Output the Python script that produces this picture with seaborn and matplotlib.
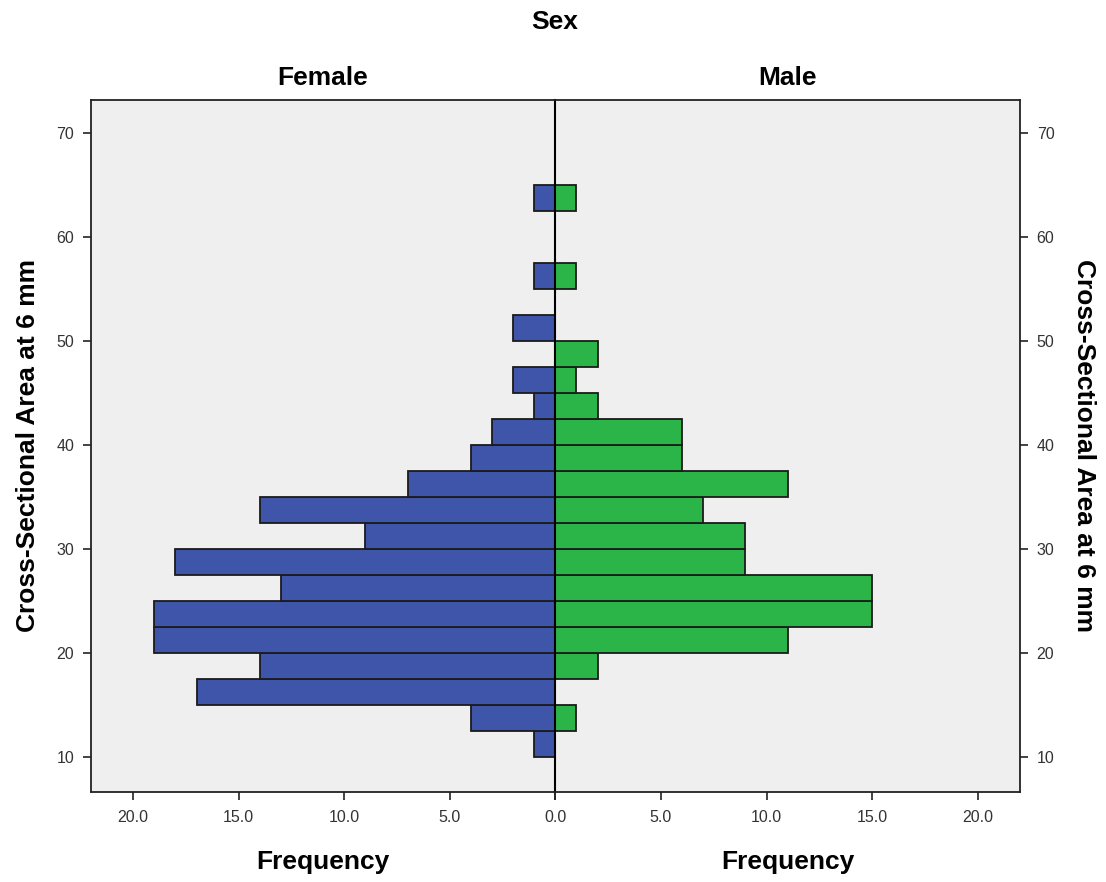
import numpy as np
import pandas as pd
import matplotlib
matplotlib.use("Agg")
import matplotlib.pyplot as plt
import seaborn as sns

# bin edges (width 2.5) and counts per bin, from 10 to 65
bin_edges = [10, 12.5, 15, 17.5, 20, 22.5, 25, 27.5, 30, 32.5, 35, 37.5,
             40, 42.5, 45, 47.5, 50, 52.5, 55, 57.5, 60, 62.5, 65]
female_counts = [1, 4, 17, 14, 19, 19, 13, 18, 9, 14, 7, 4,
                 3, 1, 2, 0, 2, 0, 1, 0, 0, 1]
male_counts = [0, 1, 0, 2, 11, 15, 15, 9, 9, 7, 11, 6,
               6, 2, 1, 2, 0, 0, 1, 0, 0, 1]
groups = ["Female", "Male"]
x_ticks = [0, 5, 10, 15, 20]
x_ticklabels = ["0.0", "5.0", "10.0", "15.0", "20.0"]
y_ticks = [10, 20, 30, 40, 50, 60, 70]

centers = [(a + b) / 2 for a, b in zip(bin_edges[:-1], bin_edges[1:])]
df = pd.DataFrame({
    "area": centers * 2,
    "count": female_counts + male_counts,
    "sex": ["Female"] * len(centers) + ["Male"] * len(centers),
})

sns.set_style("ticks")
plt.rcParams["font.family"] = ["Liberation Sans", "DejaVu Sans"]
plt.rcParams["text.color"] = "black"
plt.rcParams["axes.labelcolor"] = "black"

W, H = 1106, 882
fig = plt.figure(figsize=(W / 100, H / 100), dpi=100)
left, mid, right = 91, 555.3, 1020
top, bottom = 99.5, 791.7
axL = fig.add_axes([left / W, 1 - bottom / H, (mid - left) / W, (bottom - top) / H])
axR = fig.add_axes([mid / W, 1 - bottom / H, (right - mid) / W, (bottom - top) / H])

colors = {"Female": "#3F55A9", "Male": "#2BB548"}
face = "#EFEFEF"
for ax, g in zip([axL, axR], groups):
    sub = df[df["sex"] == g]
    sns.histplot(data=sub, y="area", weights="count", bins=bin_edges, ax=ax,
                 color=colors[g], alpha=1.0, edgecolor="#1b1b1b", linewidth=1.3)
    ax.set_facecolor(face)
    ax.set_ylim(6.63, 73.25)
    ax.set_yticks(y_ticks)
    ax.set_xticks(x_ticks)
    for s in ax.spines.values():
        s.set_visible(True)
        s.set_color("#222222")
        s.set_linewidth(1.3)
    ax.tick_params(axis="both", direction="out", length=6, width=1.2,
                   colors="#222222", labelsize=11.5, labelcolor="#333333")
    ax.tick_params(axis="x", pad=7)
    ax.tick_params(axis="y", pad=6)
    ax.set_xlabel("Frequency", fontsize=19, fontweight="bold", labelpad=18, color="black")

axL.set_xlim(22, 0)
axR.set_xlim(0, 22)
axL.set_xticklabels(x_ticklabels)
axR.set_xticklabels([""] + x_ticklabels[1:])

axL.set_ylabel("Cross-Sectional Area at 6 mm", fontsize=19, fontweight="bold",
               labelpad=12, color="black")
axR.yaxis.tick_right()
axR.yaxis.set_label_position("right")
axR.set_ylabel("Cross-Sectional Area at 6 mm", fontsize=19, fontweight="bold",
               rotation=270, labelpad=30, color="black")
axR.spines["left"].set_linewidth(1.5)
axR.spines["left"].set_color("black")

fig.text(323 / W, 1 - 78 / H, "Female", ha="center", va="center", fontsize=19,
         fontweight="bold", color="black")
fig.text(787 / W, 1 - 78 / H, "Male", ha="center", va="center", fontsize=19,
         fontweight="bold", color="black")
fig.text(555 / W, 1 - 22 / H, "Sex", ha="center", va="center", fontsize=19,
         fontweight="bold", color="black")

fig.savefig("out.png", dpi=100, facecolor="white")
